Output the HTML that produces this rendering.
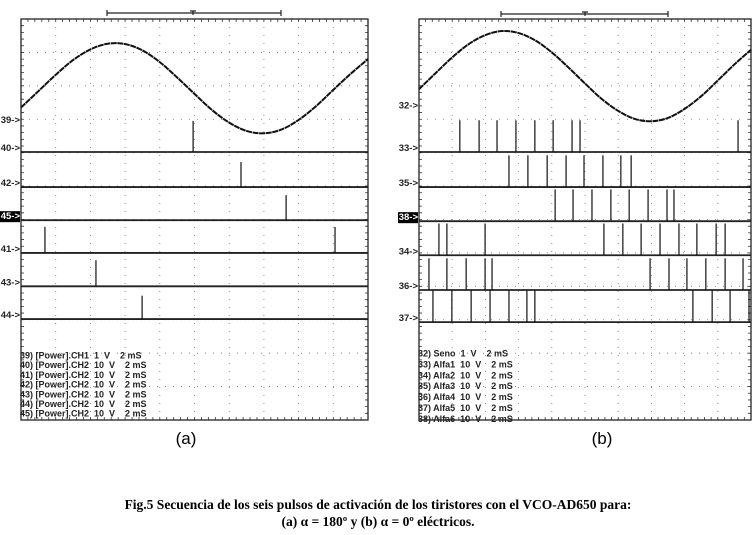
<!DOCTYPE html>
<html><head><meta charset="utf-8">
<style>
body{margin:0;background:#fff;width:756px;height:535px;overflow:hidden}
svg{display:block}
.cap{font-family:"Liberation Serif",serif;font-weight:bold;font-size:13.5px}
.leg{white-space:pre}
</style></head>
<body>
<svg id="fig" width="756" height="535" xmlns="http://www.w3.org/2000/svg">
<text x="186" y="444" text-anchor="middle" font-family="Liberation Sans, sans-serif" font-size="17">(a)</text>
<text x="602" y="444" text-anchor="middle" font-family="Liberation Sans, sans-serif" font-size="17">(b)</text>
<text class="cap" x="378" y="509" text-anchor="middle">Fig.5 Secuencia de los seis pulsos de activación de los tiristores con el VCO-AD650 para:</text>
<text class="cap" x="378" y="526" text-anchor="middle">(a) α = 180º  y (b) α = 0º eléctricos.</text>
</svg>
<script>
// ---- data (times & values in grid divisions) ----
const sineL = [-0.58,-0.09,0.40,0.84,1.16,1.33,1.32,1.13,0.78,0.32,-0.17,-0.65,-1.03,-1.28,-1.35,-1.24,-0.95,-0.54,-0.05,0.43,0.87];
const sineR = [-0.39,0.09,0.56,0.96,1.23,1.35,1.29,1.07,0.71,0.26,-0.22,-0.68,-1.04,-1.28,-1.35,-1.25,-0.98,-0.60,-0.13,0.35,0.79];
const chL = ["40","42","45","41","43","44"];
const baseL = [3.98,5.03,6.02,7.0,8.0,8.98];
const pulsesL = [[4.96],[6.34],[7.64],[0.69,9.05],[2.16],[3.49]];
const heightL = [0.93,0.75,0.75,0.78,0.78,0.7];
const chR = ["33","35","38","34","36","37"];
const baseR = [3.98,5.03,6.05,7.07,8.11,9.07];
const pulsesR = [
 [1.23,1.81,2.35,2.92,3.49,4.04,4.61,4.85,9.61],
 [2.71,3.28,3.86,4.43,4.97,5.54,6.08,6.39],
 [4.10,4.64,5.21,5.78,6.33,6.90,7.47,7.68],
 [0.60,0.84,1.99,5.57,6.14,6.69,7.26,7.83,8.37,8.95,9.22],
 [0.30,0.84,1.42,1.99,2.20,6.96,7.53,8.07,8.64,9.22,9.76],
 [0.42,0.99,1.57,2.14,2.71,3.25,3.49,8.25,8.83,9.37,9.94]];
const heightR = [0.95,0.95,0.95,0.95,0.95,0.95];
const legendL = ["39) [Power].CH1  1  V    2 mS","40) [Power].CH2  10  V    2 mS","41) [Power].CH2  10  V    2 mS","42) [Power].CH2  10  V    2 mS","43) [Power].CH2  10  V    2 mS","44) [Power].CH2  10  V    2 mS","45) [Power].CH2  10  V    2 mS"];
const legendR = ["32) Seno  1  V    2 mS","33) Alfa1  10  V    2 mS","34) Alfa2  10  V    2 mS","35) Alfa3  10  V    2 mS","36) Alfa4  10  V    2 mS","37) Alfa5  10  V    2 mS","38) Alfa6  10  V    2 mS"];

const NS="http://www.w3.org/2000/svg";
const svg=document.getElementById('fig');
function mk(tag,attrs,parent){const e=document.createElementNS(NS,tag);for(const k in attrs)e.setAttribute(k,attrs[k]);(parent||svg).appendChild(e);return e;}

function panel(P){
  const g=mk('g',{});
  
  
  const dx=(P.x1-P.x0)/10, dy=(P.y1-P.y0)/12;
  const X=t=>P.x0+t*dx, Y=d=>P.y0+d*dy;
  for(let i=1;i<10;i++){const l=mk('line',{x1:X(i),x2:X(i),y1:P.y0,y2:P.y1,stroke:'#777','stroke-width':0.8,'stroke-dasharray':'1 7'},g);}
  for(let j=1;j<12;j++){const l=mk('line',{x1:P.x0,x2:P.x1,y1:Y(j),y2:Y(j),stroke:'#777','stroke-width':0.8,'stroke-dasharray':'1 7'},g);}
  let d='';
  for(let k=1;k<50;k++){const x=P.x0+k*dx/5;d+=`M${x} ${P.y0}v3M${x} ${P.y1}v-3`;}
  for(let k=1;k<60;k++){const y=P.y0+k*dy/5;d+=`M${P.x1} ${y}h-3M${P.x0} ${y}h3`;}
  const tk=mk('path',{d:d,stroke:'#333','stroke-width':0.8,fill:'none'},g);
  
  const fr=mk('rect',{x:P.x0,y:P.y0,width:P.x1-P.x0,height:P.y1-P.y0,fill:'none',stroke:'#222','stroke-width':1.3},g);
  
  const br=mk('path',{d:`M${P.b0} ${P.by-3}v6M${P.b0} ${P.by}H${P.b1}M${P.b1} ${P.by-3}v6M${P.bt-3} ${P.by-2}h6M${P.bt} ${P.by-2}v4`,stroke:'#222','stroke-width':1.2,fill:'none'},g);
  
  const pts=P.sine.map((v,i)=>[X(i*0.5),Y(P.mid-v)]);
  let sd=`M${pts[0][0]} ${pts[0][1]}`;
  for(let i=0;i<pts.length-1;i++){const p0=pts[Math.max(0,i-1)],p1=pts[i],p2=pts[i+1],p3=pts[Math.min(pts.length-1,i+2)];
    sd+=`C${p1[0]+(p2[0]-p0[0])/6} ${p1[1]+(p2[1]-p0[1])/6} ${p2[0]-(p3[0]-p1[0])/6} ${p2[1]-(p3[1]-p1[1])/6} ${p2[0]} ${p2[1]}`;}
  const sp=mk('path',{d:sd,stroke:'#111','stroke-width':2,fill:'none','stroke-dasharray':'6 0.6'},g);
  
  const sl=mk('text',{x:P.x0-1,y:Y(P.sineMark)+3.5,'text-anchor':'end','font-family':'Liberation Sans, sans-serif','font-size':9.5,'font-weight':'bold',fill:'#222'},g);
  sl.textContent=P.sineLabel+'->';
  
  P.ch.forEach((c,i)=>{
    const by=Y(P.base[i]);
    const bl=mk('line',{x1:P.x0,x2:P.x1,y1:by,y2:by,stroke:'#222','stroke-width':1.8},g);
    
    P.pulses[i].forEach(t=>{
      const pl=mk('line',{x1:X(t),x2:X(t),y1:by,y2:by-P.h[i]*dy,stroke:'#111','stroke-width':1.2},g);
      
    });
    const lx=P.x0-1, ly=by-1;
    if(c===P.inv){const r=mk('rect',{x:P.x0-21,y:ly-8,width:20,height:11,fill:'#000'},g);}
    const tl=mk('text',{x:lx,y:ly,'text-anchor':'end','font-family':'Liberation Sans, sans-serif','font-size':9.5,'font-weight':'bold',fill:c===P.inv?'#fff':'#222'},g);
    tl.textContent=c+'->';
    
  });
  P.legend.forEach((s,i)=>{
    const t=mk('text',{x:P.x0-1,y:P.ly0+i*P.lstep+3.5,'font-family':'Liberation Sans, sans-serif','font-size':9,'font-weight':'bold',fill:'#222','class':'leg'},g);
    t.textContent=s;
    
  });
}
panel({name:'panel-a',x0:21,x1:368,y0:19,y1:420,mid:2.07,sine:sineL,sineLabel:'39',sineMark:3.0,ch:chL,base:baseL,pulses:pulsesL,h:heightL,inv:'45',legend:legendL,ly0:355,lstep:9.7,b0:107,b1:281,bt:193,by:13});
panel({name:'panel-b',x0:419,x1:751,y0:19,y1:420,mid:1.71,sine:sineR,sineLabel:'32',sineMark:2.58,ch:chR,base:baseR,pulses:pulsesR,h:heightR,inv:'38',legend:legendR,ly0:353,lstep:10.9,b0:501,b1:668,bt:585,by:14});
</script>
</body></html>
